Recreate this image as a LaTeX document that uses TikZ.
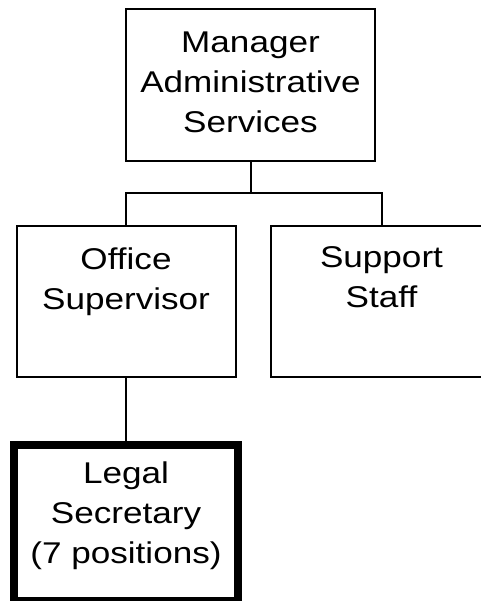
\documentclass[tikz,border=0pt]{standalone}
\usepackage{fontspec}
\setmainfont{Liberation Sans}[FakeStretch=1.17]
\usetikzlibrary{positioning}

\tikzset{
	unit/.style={draw, line width=1.5pt, minimum width=164.25pt, minimum height=113.25pt, inner sep=0pt},
	caption/.style={align=center, inner sep=0pt, font=\fontsize{22.5pt}{30pt}\selectfont},
	link/.style={line width=1.5pt}
}

\begin{document}
\begin{tikzpicture}[x=0.75pt, y=-0.75pt]
		\useasboundingbox (0, 0) rectangle (481, 601);

		% caselle
		\node[unit, minimum width=186.75pt, minimum height=114pt] (mgr) at (250.5, 85) {};
		\node[unit] (sup) at (126, 301.5) {};
		\node[unit, minimum width=165.75pt] (staff) at (381.5, 301.5) {};
		\node[unit, line width=6pt, minimum width=168.4pt, minimum height=117pt] (legal) at (126, 523) {};

		% testi
		\node[caption, below=18pt of mgr.north] (mgr_t) {Manager\\Administrative\\Services};
		\node[caption, below=16.5pt of sup.north] (sup_t) {Office\\Supervisor};
		\node[caption, below=16pt of staff.north] (staff_t) {Support\\Staff};
		\node[caption, below=15pt of legal.north] (legal_t) {Legal\\Secretary\\(7 positions)};

		% collegamenti
		\coordinate (bus) at (250.5, 193);
		\draw[link] (mgr.south) -- (bus) -| (sup.north);
		\draw[link] (bus) -| (staff.north);
		\draw[link] (sup.south) -- (legal.north);
	\end{tikzpicture}
\end{document}
